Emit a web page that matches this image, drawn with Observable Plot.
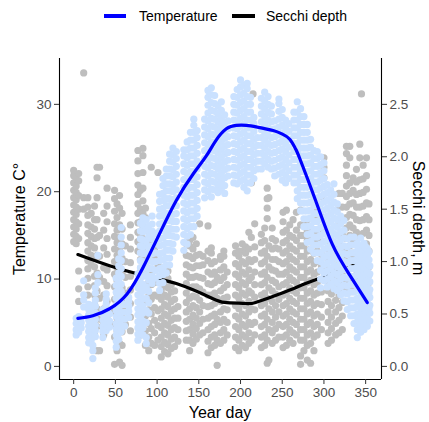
<!DOCTYPE html>
<html><head><meta charset="utf-8">
<script src="https://cdn.jsdelivr.net/npm/d3@7"></script>
<script src="https://cdn.jsdelivr.net/npm/@observablehq/plot@0.6"></script>
<style>
body{margin:0;background:#fff;font-family:"Liberation Sans",Arial,Helvetica,sans-serif;}
#wrap{position:relative;width:429px;height:422px;overflow:hidden;}
.key{position:absolute;top:14px;height:3.6px;}
.lab{position:absolute;top:8px;font-size:14px;line-height:16px;color:#000;white-space:nowrap;}
#chart{position:absolute;left:0;top:36px;}
.title{position:absolute;font-size:16px;line-height:18px;color:#000;white-space:nowrap;}
</style></head>
<body>
<div id="wrap">
  <div class="key" style="left:104px;width:22px;background:#0000ff"></div>
  <div class="lab" style="left:139px">Temperature</div>
  <div class="key" style="left:232px;width:23px;background:#000"></div>
  <div class="lab" style="left:266px">Secchi depth</div>
  <div id="chart"></div>
  <div class="title" style="left:59px;width:322px;top:404px;text-align:center">Year day</div>
  <div class="title" style="left:20px;top:218.5px;transform:translate(-50%,-50%) rotate(-90deg)">Temperature C°</div>
  <div class="title" style="left:418px;top:218px;transform:translate(-50%,-50%) rotate(90deg)">Secchi depth, m</div>
</div>
<script>
// ---- data ----
const xTicks = [0, 50, 100, 150, 200, 250, 300, 350];
const tempTicks = [0, 10, 20, 30];
const secchiTicks = [0, 0.5, 1.0, 1.5, 2.0, 2.5];
const secchiToTemp = 12; // 2.5 m on the right axis sits at 30 °C on the left axis

// temperature observations: [year day, [°C values]]
const tempCols = [
  [3, [3.6, 4.2, 4.9, 5.5]],
  [6, [3.9, 4.5, 5.1, 5.7]],
  [9, [4.4, 5.0, 5.5]],
  [12, [6.8, 7.6, 8.2, 9.8]],
  [18, [2.7, 3.3, 4.0, 4.6, 5.3, 5.9, 6.5, 7.1]],
  [21, [3.0, 3.7, 4.3, 5.0, 5.6, 6.3, 7.0]],
  [23, [0.9, 1.8, 2.4]],
  [26, [3.4, 4.1, 4.7, 5.4, 6.1, 6.9, 7.6, 8.4, 9.0]],
  [29, [9.6, 10.5, 12.7]],
  [35, [3.3, 4.0, 4.6, 5.3, 6.0, 6.5]],
  [39, [4.1, 4.8, 5.6, 6.3, 7.1, 7.7, 8.3]],
  [43, [4.5, 5.2, 6.0]],
  [51, [2.2, 2.9, 3.6, 4.3, 4.9, 5.7, 6.4, 7.0, 7.8, 8.5, 9.3, 10.1]],
  [54, [3.1, 3.8, 4.6, 5.3, 6.1, 6.8, 7.5, 8.3, 9.0, 9.8, 10.7, 11.5, 12.3]],
  [57, [4.0, 4.7, 5.5, 6.2, 7.0, 7.8, 8.6, 9.4, 10.3, 11.2, 12.1, 13.0, 13.9, 14.8, 15.9]],
  [61, [4.6, 5.4, 6.2, 7.1, 8.0]],
  [66, [5.6, 6.3, 6.9, 7.5, 7.9]],
  [77, [3.0, 3.7, 4.4, 5.1, 5.9, 6.6, 7.4, 8.2, 9.0, 9.7, 10.6]],
  [80, [4.1, 4.8, 5.6, 6.4, 7.2, 8.0, 8.8, 9.6, 10.4, 11.3, 12.1, 13.0, 13.8, 14.6, 15.5, 16.4]],
  [83, [3.6, 4.4, 5.2, 6.1, 6.9, 7.7, 8.6, 9.4, 10.3, 11.2, 12.0, 12.9, 13.7, 14.5, 15.4, 16.2, 17.0]],
  [87, [2.6, 3.3, 5.0, 6.4, 7.8, 9.1, 10.5, 11.8, 13.0, 14.3, 15.6, 16.8]],
  [90, [6.1, 7.3, 8.6, 9.9, 11.2, 12.5, 13.7, 14.9, 16.1]],
  [94, [9.5, 10.3, 11.2, 12.0, 12.9, 13.8, 14.6, 15.5, 16.3, 17.2]],
  [98, [10.1, 11.0, 12.0, 13.0, 14.1, 15.2]],
  [103, [8.7, 9.5, 10.4, 11.2, 12.1, 12.9, 13.8, 14.6, 15.5, 16.3, 17.2, 18.0, 18.9, 19.7]],
  [107, [9.6, 10.5, 11.3, 12.2, 13.0, 13.9, 14.7, 15.6, 16.4, 17.3, 18.1, 19.0, 19.8, 20.7, 21.5]],
  [111, [10.7, 11.6, 12.4, 13.3, 14.1, 15.0, 15.8, 16.7, 17.5, 18.4, 19.2, 20.1, 20.9, 21.8, 22.6]],
  [115, [11.6, 12.4, 13.3, 14.1, 15.0, 15.8, 16.7, 17.5, 18.4, 19.2, 20.1, 20.9, 21.8, 22.6, 23.5, 24.3]],
  [119, [13.2, 14.0, 14.9, 15.7, 16.6, 17.4, 18.3, 19.1, 20.0, 20.8, 21.7, 22.5, 23.4, 24.2, 25.0]],
  [123, [14.8, 15.7, 16.6, 17.5, 18.4, 19.3, 20.2, 21.1, 22.0, 22.9, 23.8, 24.6]],
  [132, [13.3, 14.2, 15.1, 16.0, 16.9, 17.8, 18.7, 19.6, 20.5, 21.4, 22.3, 23.2, 24.1, 24.8]],
  [136, [14.0, 14.9, 15.8, 16.7, 17.6, 18.5, 19.4, 20.3, 21.2, 22.1, 23.0, 23.9, 24.8, 25.7]],
  [140, [15.1, 16.0, 16.9, 17.8, 18.7, 19.6, 20.5, 21.4, 22.3, 23.2, 24.1, 25.0, 25.9, 26.8]],
  [144, [16.0, 16.9, 17.8, 18.7, 19.6, 20.5, 21.4, 22.3, 23.2, 24.1, 25.0, 25.9, 26.8, 27.6, 28.3]],
  [148, [17.2, 18.1, 19.0, 19.9, 20.8, 21.7, 22.6, 23.5, 24.4, 25.3, 26.2, 27.0]],
  [157, [19.3, 20.2, 21.1, 22.0, 22.9, 23.8, 24.7, 25.6, 26.5, 27.4, 28.3]],
  [161, [20.0, 20.9, 21.8, 22.7, 23.6, 24.5, 25.4, 26.3, 27.2, 28.1, 29.0, 29.9, 30.8, 31.6]],
  [165, [19.4, 20.3, 21.2, 22.1, 23.0, 23.9, 24.8, 25.7, 26.6, 27.5, 28.4, 29.3, 30.2, 31.1, 31.9]],
  [169, [20.2, 21.1, 22.0, 22.9, 23.8, 24.7, 25.6, 26.5, 27.4, 28.3, 29.2, 30.1, 31.0]],
  [173, [19.9, 20.8, 21.7, 22.6, 23.5, 24.4, 25.3, 26.2, 27.1, 28.0, 28.9, 29.8]],
  [177, [20.3, 21.2, 22.1, 23.0, 23.9, 24.8, 25.7, 26.6, 27.5, 28.4, 29.3, 30.3]],
  [181, [19.8, 20.7, 21.6, 22.5, 23.4, 24.3, 25.2, 26.1, 27.0, 27.9, 28.8]],
  [185, [21.8, 22.7, 23.6, 24.5, 25.4, 26.3, 27.2, 28.1]],
  [192, [21.0, 21.9, 22.8, 23.7, 24.6, 25.5, 26.4, 27.3, 28.2, 29.1, 30.0, 30.9]],
  [196, [20.9, 21.8, 22.7, 23.6, 24.5, 25.4, 26.3, 27.2, 28.1, 29.0, 29.9, 30.8, 31.7]],
  [200, [21.2, 22.1, 23.0, 23.9, 24.8, 25.7, 26.6, 27.5, 28.4, 29.3, 30.2, 31.1, 32.0, 32.8]],
  [204, [20.5, 21.4, 22.3, 23.2, 24.1, 25.0, 25.9, 26.8, 27.7, 28.6, 29.5, 30.4, 31.3, 32.2]],
  [208, [20.1, 21.0, 21.9, 22.8, 23.7, 24.6, 25.5, 26.4, 27.3, 28.2, 29.1, 30.0, 30.9, 31.8, 32.4]],
  [212, [21.0, 21.9, 22.8, 23.7, 24.6, 25.5, 26.4, 27.3, 28.2, 29.1, 30.0, 30.8]],
  [216, [21.5, 22.4, 23.3, 24.2, 25.1, 26.0, 26.9, 27.8, 28.5]],
  [220, [22.6, 23.5, 24.4, 25.3, 26.2]],
  [225, [22.6, 23.5, 24.4, 25.3, 26.2, 27.1, 28.0, 28.9, 29.8, 30.7]],
  [229, [23.2, 24.1, 25.0, 25.9, 26.8, 27.7, 28.6, 29.5, 30.4, 31.4]],
  [233, [22.8, 23.7, 24.6, 25.5, 26.4, 27.3, 28.2, 29.1, 30.0, 30.9]],
  [237, [22.6, 23.5, 24.4, 25.3, 26.2, 27.1, 28.0, 28.9, 29.8]],
  [241, [21.8, 22.7, 23.6, 24.5, 25.4, 26.3, 27.2, 28.1]],
  [246, [22.0, 22.9, 23.8, 24.7, 25.6, 26.5, 27.4, 28.3, 29.2, 30.1, 30.6]],
  [250, [21.3, 22.2, 23.1, 24.0, 24.9, 25.8, 26.7, 27.6, 28.5, 29.4]],
  [254, [21.0, 21.9, 22.8, 23.7, 24.6, 25.5, 26.4, 27.3, 28.2]],
  [258, [21.5, 22.4, 23.3, 24.2, 25.1, 26.0, 26.9, 27.8]],
  [264, [21.0, 21.9, 22.8, 23.7, 24.6, 25.5, 26.4, 27.3, 28.2, 29.1]],
  [268, [19.2, 20.1, 21.0, 21.9, 22.8, 23.7, 24.6, 25.5, 26.4, 27.3, 28.2, 29.1, 30.3]],
  [272, [17.8, 18.7, 19.6, 20.5, 21.4, 22.3, 23.2, 24.1, 25.0, 25.9, 26.8, 27.7, 28.6, 29.5]],
  [276, [16.0, 16.9, 17.8, 18.7, 19.6, 20.5, 21.4, 22.3, 23.2, 24.1, 25.0, 25.9, 26.8, 27.7, 28.6]],
  [280, [14.2, 15.1, 16.0, 16.9, 17.8, 18.7, 19.6, 20.5, 21.4, 22.3, 23.2, 24.1, 25.0, 25.9, 26.8, 27.7]],
  [284, [13.4, 14.3, 15.2, 16.1, 17.0, 17.9, 18.8, 19.7, 20.6, 21.5, 22.4, 23.3, 24.2, 25.1, 26.0]],
  [288, [13.0, 13.9, 14.8, 15.7, 16.6, 17.5, 18.4, 19.3, 20.2, 21.1, 22.0, 22.9, 23.8, 24.7]],
  [292, [12.1, 13.0, 13.9, 14.8, 15.7, 16.6, 17.5, 18.4, 19.3, 20.2, 21.1, 22.0, 22.9, 23.8, 24.6]],
  [296, [9.0, 10.0, 11.0, 12.0, 13.0, 14.0, 15.0, 15.9, 16.8, 17.7, 18.6, 19.5, 20.4, 21.3, 22.2, 23.1, 24.0]],
  [300, [9.8, 10.7, 11.6, 12.5, 13.4, 14.3, 15.2, 16.1, 17.0, 17.9, 18.8, 19.7, 20.6, 21.5, 22.4, 23.3]],
  [304, [9.1, 10.0, 10.9, 11.8, 12.7, 13.6, 14.5, 15.4, 16.3, 17.2, 18.1, 19.0, 19.9, 20.8]],
  [308, [9.4, 10.3, 11.2, 12.1, 13.0, 13.9, 14.8, 15.7, 16.6, 17.5, 18.4, 19.3, 20.2]],
  [312, [8.9, 9.8, 10.7, 11.6, 12.5, 13.4, 14.3, 15.2, 16.1, 17.0, 17.9, 18.8, 19.7, 20.9]],
  [316, [8.7, 9.6, 10.5, 11.4, 12.3, 13.2, 14.1, 15.0, 15.9, 16.8, 17.7, 18.6]],
  [320, [8.2, 9.1, 10.0, 10.9, 11.8, 12.7, 13.6, 14.5, 15.4, 16.3, 17.2]],
  [324, [7.5, 8.4, 9.3, 10.2, 11.1, 12.0, 12.9, 13.8, 14.7, 15.6, 16.7]],
  [328, [6.5, 7.4, 8.3, 9.2, 10.1, 11.0, 11.9, 12.8, 13.7, 14.6]],
  [332, [5.8, 6.7, 7.6, 8.5, 9.4, 10.3, 11.2, 12.1, 13.0, 13.9, 14.8]],
  [336, [4.9, 5.8, 6.7, 7.6, 8.5, 9.4, 10.3, 11.2, 12.1, 13.0, 13.9, 14.8]],
  [340, [3.3, 4.2, 5.1, 6.0, 6.9, 7.8, 8.7, 9.6, 10.5, 11.4, 12.3, 13.2, 14.1]],
  [342, [4.6, 5.5, 7.3, 9.1, 10.9, 11.8, 12.7, 13.6]],
  [344, [3.9, 4.8, 5.7, 6.6, 7.5, 8.4, 9.3, 10.2, 11.1, 12.0, 12.9, 13.8, 14.7]],
  [346, [5.2, 6.2, 8.0, 9.8, 11.5, 12.4, 13.3]],
  [348, [4.2, 5.1, 6.0, 6.9, 7.8, 8.7, 9.6, 10.5, 11.4, 12.3, 13.2, 14.1]],
  [350, [4.7, 6.4, 8.2, 10.1, 11.9, 12.8, 13.7]],
  [352, [4.6, 5.5, 6.4, 7.3, 8.2, 9.1, 10.0, 10.9, 11.8, 12.7, 13.5]],
  [354, [6.6, 8.4, 10.4, 12.2, 13.1]],
  [355, [5.2, 6.1, 7.0, 7.9, 8.8, 9.7, 10.6, 11.5]]
];

// Secchi depth observations: [year day, [m values]]
const secchiCols = [
  [0, [1.19, 1.26, 1.33, 1.40, 1.47, 1.54, 1.61, 1.68, 1.75, 1.82, 1.87]],
  [3, [1.17, 1.24, 1.31, 1.38, 1.45, 1.52, 1.59, 1.66, 1.72, 1.79]],
  [6, [0.62, 0.74, 0.91, 1.22, 1.36, 1.50, 1.63, 1.77, 1.84]],
  [12, [1.50, 1.61, 2.8]],
  [17, [0.68, 0.76, 0.84, 0.93, 1.01, 1.10, 1.18, 1.27, 1.35, 1.44, 1.52, 1.61]],
  [21, [0.40, 0.49, 0.58, 0.97, 1.06, 1.15, 1.24, 1.33, 1.46]],
  [25, [0.32, 0.41, 0.50, 0.59, 0.68, 0.77, 0.86, 0.95, 1.04, 1.13, 1.22, 1.31, 1.40, 1.53]],
  [28, [0.15, 0.38, 0.55, 0.72, 0.89, 1.06, 1.23, 1.40, 1.61, 1.80, 1.90]],
  [31, [0.15, 0.45, 0.65, 0.85, 1.05, 1.25, 1.90]],
  [36, [0.30, 0.42, 0.55, 0.68, 0.81, 0.94, 1.13, 1.30, 1.46]],
  [40, [0.48, 0.62, 0.77, 0.92, 1.07, 1.22, 1.38, 1.53, 1.70]],
  [49, [0.02, 0.28, 0.40, 0.52, 0.64, 0.76, 0.88, 1.00, 1.12, 1.24, 1.36, 1.48, 1.60, 1.68]],
  [52, [0.15, 0.34, 0.46, 0.58, 0.70, 0.82, 0.94, 1.06, 1.18, 1.30, 1.42, 1.55]],
  [55, [0.04, 0.22, 0.39, 0.51, 0.63, 0.75, 0.87, 0.99, 1.11, 1.23, 1.35, 1.51, 1.63]],
  [58, [0.01, 0.20, 0.33, 0.47, 0.61, 0.75, 0.89, 1.03, 1.17, 1.31, 1.46]],
  [62, [0.40, 0.55, 0.70, 0.85, 1.00, 1.15]],
  [68, [0.34, 0.47, 0.60, 0.73, 0.86, 0.99, 1.12, 1.23, 1.35]],
  [77, [1.10, 1.19, 1.28, 1.37, 1.46, 1.55, 1.64, 1.73, 1.84, 1.96, 2.06]],
  [80, [0.30, 0.45, 0.60, 0.75, 0.90, 1.02, 1.14, 1.26, 1.38, 1.50, 1.68]],
  [83, [1.10, 1.22, 1.34, 1.46, 1.58, 1.70, 1.85, 2.01, 2.08]],
  [86, [0.20, 0.34, 0.48, 0.62, 0.76, 0.90, 1.04, 1.17, 1.30, 1.42, 1.51]],
  [90, [0.15, 0.28, 0.41, 0.54, 0.67, 0.80, 0.93, 1.06, 1.17]],
  [93, [0.22, 0.36, 0.50, 0.64, 0.78, 0.92, 1.05, 1.90]],
  [97, [0.20, 0.32, 0.44, 0.56, 0.68, 0.80, 0.92, 1.04, 1.12]],
  [101, [0.25, 0.39, 0.53, 0.67, 0.81, 0.95, 1.85]],
  [105, [0.09, 0.19, 0.28, 0.37, 0.46, 0.55, 0.64, 0.73, 0.82, 0.94]],
  [109, [0.14, 0.23, 0.32, 0.41, 0.50, 0.59, 0.68, 0.77, 0.86]],
  [113, [0.12, 0.21, 0.30, 0.39, 0.48, 0.57, 0.66, 0.75, 0.84, 0.91]],
  [117, [0.17, 0.26, 0.35, 0.44, 0.53, 0.62, 0.71, 0.78]],
  [121, [0.19, 0.28, 0.37, 0.46, 0.55, 0.64, 0.72]],
  [125, [0.24, 0.35, 0.46, 0.57]],
  [135, [0.25, 0.34, 0.43, 0.52, 0.61, 0.70, 0.79, 0.88, 0.97, 1.06, 1.17]],
  [139, [0.15, 0.25, 0.35, 0.45, 0.55, 0.65, 0.75, 0.85, 0.95, 1.05, 1.15, 1.20]],
  [143, [0.22, 0.31, 0.40, 0.49, 0.58, 0.67, 0.76, 0.85, 0.94, 1.03, 1.12, 1.23]],
  [147, [0.26, 0.36, 0.46, 0.56, 0.66, 0.76, 0.86, 0.96, 1.06, 1.17]],
  [151, [0.30, 0.41, 0.52, 0.63, 0.74, 0.85, 0.96, 1.07, 1.36]],
  [155, [0.32, 0.45, 0.58, 0.71, 0.84, 0.97, 1.05]],
  [161, [0.13, 0.24, 0.35, 0.46, 0.57, 0.68, 0.79, 0.90, 1.01, 1.10, 1.34]],
  [165, [0.18, 0.28, 0.38, 0.48, 0.58, 0.68, 0.78, 0.88, 0.98, 1.08, 1.13]],
  [169, [0.20, 0.30, 0.40, 0.50, 0.60, 0.70, 0.80, 0.90, 1.00]],
  [172, [0.01, 0.25, 0.45, 0.65, 0.85]],
  [176, [0.22, 0.32, 0.42, 0.52, 0.62, 0.72, 0.82, 0.92, 1.02, 1.05]],
  [180, [0.25, 0.35, 0.45, 0.55, 0.65, 0.75, 0.85, 0.95, 1.05, 1.10]],
  [184, [0.30, 0.42, 0.54, 0.66, 0.78, 0.90]],
  [194, [0.18, 0.28, 0.38, 0.48, 0.58, 0.68, 0.78, 0.88, 0.98, 1.08, 1.15]],
  [198, [0.15, 0.25, 0.35, 0.45, 0.55, 0.65, 0.75, 0.85, 0.95, 1.05, 1.10]],
  [202, [0.20, 0.30, 0.40, 0.50, 0.60, 0.70, 0.80, 0.90, 1.00, 1.10, 1.17]],
  [206, [0.18, 0.28, 0.38, 0.48, 0.58, 0.68, 0.78, 0.88, 0.98, 1.08, 1.14]],
  [210, [0.22, 0.32, 0.42, 0.52, 0.62, 0.72, 0.82, 0.92, 1.02, 1.12, 1.28]],
  [213, [0.25, 0.40, 0.55, 0.70, 0.85, 1.00, 1.23, 1.75]],
  [215, [2.6]],
  [217, [0.30, 0.42, 0.54, 0.66, 0.78, 0.90, 1.02, 1.14, 1.36]],
  [225, [0.18, 0.28, 0.38, 0.48, 0.58, 0.68, 0.78, 0.88, 0.98, 1.08, 1.18, 1.26]],
  [229, [0.20, 0.30, 0.40, 0.50, 0.60, 0.70, 0.80, 0.90, 1.00, 1.10, 1.20, 1.32]],
  [232, [0.03, 0.25, 0.45, 0.65, 0.85, 1.05, 1.41, 1.51, 1.60, 1.70]],
  [234, [0.06, 0.35, 0.55, 0.75, 0.95, 1.15, 1.61]],
  [238, [0.22, 0.32, 0.42, 0.52, 0.62, 0.72, 0.82, 0.92, 1.02, 1.12, 1.22, 1.32]],
  [242, [0.25, 0.36, 0.47, 0.58, 0.69, 0.80, 0.91, 1.02, 1.13, 1.20]],
  [246, [0.28, 0.40, 0.52, 0.64, 0.76, 0.88, 1.00, 1.12]],
  [251, [0.18, 0.28, 0.38, 0.48, 0.58, 0.68, 0.78, 0.88, 0.98, 1.08, 1.18, 1.28, 1.38, 1.47]],
  [255, [0.20, 0.30, 0.40, 0.50, 0.60, 0.70, 0.80, 0.90, 1.00, 1.10, 1.20, 1.30, 1.49]],
  [259, [0.25, 0.35, 0.45, 0.55, 0.65, 0.75, 0.85, 0.95, 1.05, 1.15, 1.25, 1.35]],
  [263, [0.22, 0.32, 0.42, 0.52, 0.62, 0.72, 0.82, 0.92, 1.02, 1.12, 1.23, 1.40]],
  [267, [0.30, 0.40, 0.50, 0.60, 0.70, 0.80, 0.90, 1.00, 1.10, 1.20, 1.30, 1.47]],
  [272, [0.02, 0.10, 0.25, 0.35, 0.45, 0.55, 0.65, 0.75, 0.85, 0.95, 1.05, 1.15, 1.25, 1.35, 1.49]],
  [276, [0.15, 0.25, 0.35, 0.45, 0.55, 0.65, 0.75, 0.85, 0.95, 1.05, 1.15, 1.25, 1.35]],
  [280, [0.06, 0.20, 0.30, 0.40, 0.50, 0.60, 0.70, 0.80, 0.90, 1.00, 1.10, 1.20, 1.30, 1.40]],
  [284, [0.03, 0.22, 0.32, 0.42, 0.52, 0.62, 0.72, 0.82, 0.92, 1.02, 1.12, 1.22, 1.32]],
  [288, [0.15, 0.28, 0.38, 0.48, 0.58, 0.68, 0.78, 0.88, 0.98, 1.08, 1.18, 1.28]],
  [292, [0.30, 0.40, 0.50, 0.60, 0.70, 0.80, 0.90, 1.00, 1.10, 1.20, 1.30, 1.40, 1.50]],
  [297, [0.35, 0.47, 0.59, 0.71, 0.83, 0.95, 1.07, 1.19, 1.31, 1.43, 1.62]],
  [300, [1.80, 1.90, 1.99]],
  [305, [0.22, 0.32, 0.42, 0.52, 0.62, 0.72, 0.82, 0.92, 1.02, 1.12, 1.20]],
  [309, [0.25, 0.36, 0.47, 0.58, 0.69, 0.80, 0.91, 1.02, 1.10]],
  [314, [0.30, 0.41, 0.52, 0.63, 0.74, 0.85, 0.96, 1.07, 1.15]],
  [318, [0.32, 0.44, 0.56, 0.68, 0.80, 0.92, 1.04, 1.16, 1.39, 1.52, 1.65]],
  [322, [0.35, 0.48, 0.61, 0.74, 0.87, 1.00, 1.13, 1.26, 1.39, 1.52, 1.65]],
  [327, [0.72, 0.82, 0.92, 1.02, 1.12, 1.22, 1.32, 1.42, 1.52, 1.62, 1.72, 1.82, 1.92, 2.03, 2.10]],
  [331, [0.75, 0.85, 0.95, 1.05, 1.15, 1.25, 1.35, 1.45, 1.55, 1.65, 1.75, 1.99, 2.10]],
  [335, [0.72, 0.84, 0.96, 1.08, 1.20, 1.32, 1.44, 1.56, 1.68, 1.80]],
  [339, [0.80, 0.92, 1.04, 1.16, 1.28, 1.40, 1.52, 1.64, 1.76, 1.88]],
  [343, [0.72, 0.85, 0.98, 1.11, 1.24, 1.39, 1.52, 1.65, 1.78, 1.99, 2.12]],
  [345, [2.6]],
  [347, [0.75, 0.88, 1.01, 1.14, 1.27, 1.40, 1.53, 1.66, 1.79, 1.92]],
  [351, [0.78, 0.91, 1.04, 1.17, 1.30, 1.43, 1.56, 1.69, 1.82, 1.99]],
  [354, [0.80, 0.95, 1.10, 1.25, 1.40, 1.55]]
];

// smoothed trends
const tempTrendDay = [5, 23, 43, 64, 83, 103, 123, 143, 159, 170, 183, 195, 207, 220, 239, 250, 259, 266, 271, 290, 310, 330, 352];
const tempTrendVal = [5.5, 5.8, 6.6, 8.3, 11.3, 15.2, 19.0, 22.0, 24.1, 25.8, 27.2, 27.6, 27.6, 27.4, 27.0, 26.6, 26.0, 24.9, 23.8, 19.0, 14.0, 10.6, 7.3];
const secchiTrendDay = [5, 43, 83, 123, 163, 181, 206, 218, 250, 278, 305, 329, 351];
const secchiTrendVal = [1.067, 0.96, 0.87, 0.79, 0.66, 0.61, 0.60, 0.61, 0.70, 0.79, 0.87, 0.94, 1.03];

const xDomain = [-17, 369];
const yDomain = [-1.5, 35.25];

// ---- build tables ----
const tempObs = tempCols.flatMap(([d, vs]) => vs.map(v => ({day: d, temp: v})));
const secchiObs = secchiCols.flatMap(([d, vs]) => vs.map(v => ({day: d, y: v * secchiToTemp})));
const tempTrend = tempTrendDay.map((d, i) => ({day: d, temp: tempTrendVal[i]}));
const secchiTrend = secchiTrendDay.map((d, i) => ({day: d, y: secchiTrendVal[i] * secchiToTemp}));

const chart = Plot.plot({
  width: 429, height: 386,
  marginLeft: 59, marginRight: 48, marginTop: 22, marginBottom: 43,
  style: {fontFamily: '"Liberation Sans", Arial, Helvetica, sans-serif', fontSize: "13.5px", background: "#fff"},
  x: {domain: xDomain},
  y: {domain: yDomain},
  marks: [
    Plot.dot(secchiObs, {x: "day", y: "y", r: 3.6, fill: "#bebebe", stroke: null}),
    Plot.line(secchiTrend, {x: "day", y: "y", stroke: "#000", strokeWidth: 3.2, curve: "natural"}),
    Plot.dot(tempObs, {x: "day", y: "temp", r: 3.6, fill: "#cae1ff", stroke: null}),
    Plot.line(tempTrend, {x: "day", y: "temp", stroke: "#0000ff", strokeWidth: 3.2, curve: "natural"}),
    Plot.ruleY([yDomain[0]], {stroke: "#000", strokeWidth: 1.1}),
    Plot.ruleX([xDomain[0], xDomain[1]], {stroke: "#000", strokeWidth: 1.1}),
    Plot.axisX({ticks: xTicks, tickSize: 5, tickPadding: 3, stroke: "#333", fill: "#4d4d4d", label: null, fontSize: 13.5}),
    Plot.axisY({ticks: tempTicks, anchor: "left", tickSize: 5, tickPadding: 3, stroke: "#333", fill: "#4d4d4d", label: null, fontSize: 13.5}),
    Plot.axisY({ticks: secchiTicks.map(v => v * secchiToTemp), anchor: "right", tickSize: 5, tickPadding: 3,
      tickFormat: v => (v / secchiToTemp).toFixed(1), stroke: "#333", fill: "#4d4d4d", label: null, fontSize: 13.5})
  ]
});
document.getElementById("chart").appendChild(chart);
</script>
</body></html>
